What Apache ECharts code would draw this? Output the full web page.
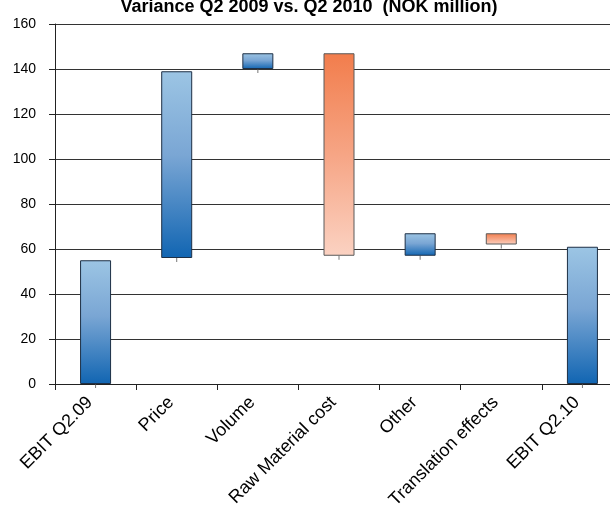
<!DOCTYPE html>
<html>
<head>
<meta charset="utf-8">
<script src="https://cdn.jsdelivr.net/npm/echarts@6/dist/echarts.min.js"></script>
<style>
  html, body { margin: 0; padding: 0; background: #fff; }
  #chart { width: 610px; height: 512px; }
</style>
</head>
<body>
<div id="chart"></div>
<script>
// Bridge of EBIT from Q2 2009 to Q2 2010, NOK million
const categories = ['EBIT Q2.09', 'Price', 'Volume', 'Raw Material cost', 'Other', 'Translation effects', 'EBIT Q2.10'];
// Lower and upper edge of each floating bar
const barLow  = [0, 56, 140, 57, 57, 62, 0];
const barHigh = [55, 139, 147, 147, 67, 67, 61];
// What each bar represents
const effect = ['total', 'increase', 'increase', 'decrease', 'increase', 'decrease', 'total'];
const yTicks = { min: 0, max: 160, interval: 20 };

const blueFill = new echarts.graphic.LinearGradient(0, 0, 0, 1, [
  { offset: 0, color: '#9cc5e4' },
  { offset: 0.45, color: '#7aa6d4' },
  { offset: 1, color: '#1165b2' }
]);
const orangeFill = new echarts.graphic.LinearGradient(0, 0, 0, 1, [
  { offset: 0, color: '#f27d4c' },
  { offset: 0.5, color: '#f6a585' },
  { offset: 1, color: '#fbd2c2' }
]);

const visible = barHigh.map((h, i) => {
  const down = effect[i] === 'decrease';
  return {
    value: h - barLow[i],
    itemStyle: {
      color: down ? orangeFill : blueFill,
      borderColor: down ? '#5a5a5a' : '#1d2f45',
      borderWidth: 1
    }
  };
});

const chart = echarts.init(document.getElementById('chart'));
chart.setOption({
  animation: false,
  title: {
    text: 'Variance Q2 2009 vs. Q2 2010  (NOK million)',
    left: 304,
    textAlign: 'center',
    top: -7,
    textStyle: { fontFamily: 'Liberation Sans', fontWeight: 'bold', fontSize: 18, color: '#000' }
  },
  // plot area runs past the right edge of the canvas
  grid: { left: 55, top: 24, width: 568, height: 360, outerBoundsMode: 'none', containLabel: false },
  xAxis: {
    type: 'category',
    data: categories,
    boundaryGap: true,
    axisLine: { lineStyle: { color: '#222', width: 1 } },
    axisTick: { show: true, length: 6, inside: false, lineStyle: { color: '#222' }, alignWithLabel: false },
    axisLabel: {
      rotate: 45,
      interval: 0,
      margin: 10,
      padding: [0, 8, 0, 0],
      fontFamily: 'Liberation Sans',
      fontSize: 18,
      color: '#000'
    }
  },
  yAxis: {
    type: 'value',
    min: yTicks.min,
    max: yTicks.max,
    interval: yTicks.interval,
    axisLine: { show: true, lineStyle: { color: '#222', width: 1 } },
    axisTick: { show: true, length: 6, lineStyle: { color: '#222' } },
    axisLabel: { margin: 19, fontFamily: 'Liberation Sans', fontSize: 14, color: '#000' },
    splitLine: { show: true, lineStyle: { color: '#333', width: 1 } }
  },
  series: [
    {
      type: 'bar',
      stack: 'bridge',
      data: barLow,
      itemStyle: { color: 'transparent', borderWidth: 0 },
      silent: true,
      barWidth: 31
    },
    {
      type: 'bar',
      stack: 'bridge',
      data: visible,
      barWidth: 31
    },
    {
      type: 'scatter',
      data: barLow.map((v, i) => [i, v]),
      symbol: 'rect',
      symbolSize: [1, 4],
      symbolOffset: [0, 2],
      itemStyle: { color: '#555' },
      z: 1
    }
  ]
});
</script>
</body>
</html>
